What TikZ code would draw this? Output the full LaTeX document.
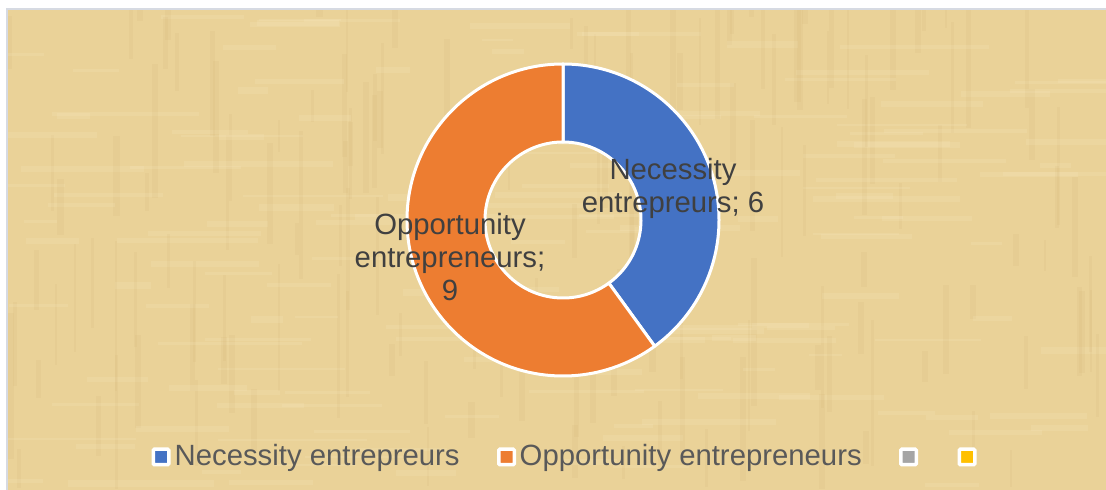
\documentclass[tikz,border=0pt]{standalone}
\usepackage{fontspec}
\setmainfont{Liberation Sans}
\usetikzlibrary{positioning}
\definecolor{papyrus}{RGB}{234,210,152}
\definecolor{papyrusdark}{RGB}{190,152,84}
\definecolor{papyruslight}{RGB}{250,236,196}
\definecolor{necblue}{RGB}{68,114,196}
\definecolor{opporange}{RGB}{237,125,49}
\definecolor{sergray}{RGB}{165,165,165}
\definecolor{seryellow}{RGB}{255,192,0}
\definecolor{labelgray}{RGB}{64,64,64}
\definecolor{legendgray}{RGB}{89,89,89}
\definecolor{framegray}{RGB}{214,218,226}

\tikzset{
  slice/.style={draw=white, line width=3pt, line join=round},
  datalabel/.style={text=labelgray, align=center, inner sep=0pt, font=\fontsize{29.3}{33}\selectfont},
  legendkey/.style={draw=white, line width=3.5pt, rounded corners=1pt, minimum size=15.5pt, inner sep=0pt},
  legendtext/.style={text=legendgray, inner sep=0pt, anchor=base west, font=\fontsize{29.3}{33}\selectfont},
}

\begin{document}
\begin{tikzpicture}[x=1pt,y=1pt]
    \useasboundingbox (0,0) rectangle (1106,490);
    % papyrus background
    \fill[papyrus] (7,0) rectangle (1106,481);
    \begin{scope}
    \clip (7,0) rectangle (1106,481);
    \pgfmathsetseed{11}
    \foreach \i in {1,...,160} {
        \pgfmathsetmacro{\xa}{7+rnd*1099}
        \pgfmathsetmacro{\ya}{rnd*481}
        \pgfmathsetmacro{\wa}{2+rnd*5}
        \pgfmathsetmacro{\la}{30+rnd*120}
        \fill[papyrusdark, opacity=0.07] (\xa,\ya) rectangle ++(\wa,\la);
        \fill[papyruslight, opacity=0.18] (\ya*2.2,\xa*0.43) rectangle ++(\la,\wa);
    }
    \end{scope}
    \draw[framegray, line width=1.5pt] (7,0) -- (7,481) -- (1106,481);
    % donut
    \coordinate (C) at (563,270);
    \def\ringout{156}
    \def\ringin{78}
    \filldraw[slice, fill=necblue] ([shift={(90:\ringout)}]C) arc[start angle=90, end angle=-54, radius=\ringout]
        -- ([shift={(-54:\ringin)}]C) arc[start angle=-54, end angle=90, radius=\ringin] -- cycle;
    \filldraw[slice, fill=opporange] ([shift={(90:\ringout)}]C) arc[start angle=90, end angle=306, radius=\ringout]
        -- ([shift={(306:\ringin)}]C) arc[start angle=306, end angle=90, radius=\ringin] -- cycle;
    % data labels
    \node[datalabel] (necl) at (673,301.5) {Necessity\\entrepreurs; 6};
    \node[datalabel] (oppl) at (450,233) {Opportunity\\entrepreneurs;\\9};
    % legend
    \node[legendkey, fill=necblue] (keynec) at (161,33) {};
    \node[legendtext] (txtnec) at (174.5,24) {Necessity entrepreurs};
    \node[legendkey, fill=opporange] (keyopp) at (506.5,33) {};
    \node[legendtext] (txtopp) at (519.5,24) {Opportunity entrepreneurs};
    \node[legendkey, fill=sergray] (keythree) at (908.5,33) {};
    \node[legendkey, fill=seryellow] (keyfour) at (967,33) {};
\end{tikzpicture}
\end{document}
